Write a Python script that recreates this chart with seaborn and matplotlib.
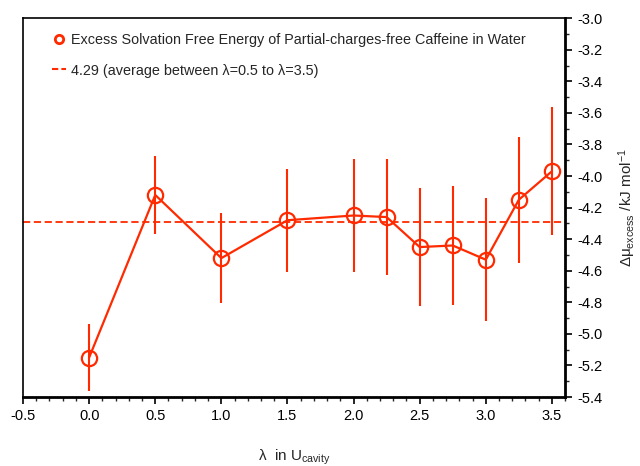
import numpy as np
import pandas as pd
import matplotlib
matplotlib.use("Agg")
import matplotlib.pyplot as plt
import seaborn as sns
from matplotlib.ticker import MultipleLocator, FormatStrFormatter
from matplotlib.lines import Line2D

lam = [0.0, 0.5, 1.0, 1.5, 2.0, 2.25, 2.5, 2.75, 3.0, 3.25, 3.5]
dmu = [-5.15, -4.12, -4.52, -4.28, -4.25, -4.26, -4.45, -4.44, -4.53, -4.15, -3.97]
err = [0.21, 0.25, 0.285, 0.325, 0.355, 0.365, 0.375, 0.38, 0.39, 0.40, 0.405]
avg = -4.29
series_label = "Excess Solvation Free Energy of Partial-charges-free Caffeine in Water"
avg_label = "4.29 (average between \u03bb=0.5 to \u03bb=3.5)"

sns.set_style("white")
plt.rcParams['font.family'] = ['Liberation Sans', 'DejaVu Sans']
plt.rcParams['mathtext.fontset'] = 'custom'
plt.rcParams['mathtext.rm'] = 'Liberation Sans'
plt.rcParams['mathtext.it'] = 'Liberation Sans'
RED = '#ff2a00'

df = pd.DataFrame({'lam': lam, 'dmu': dmu, 'err': err})

fig = plt.figure(figsize=(6.4, 4.66), dpi=100)
ax = fig.add_axes([0.036, 0.148, 0.847, 0.813])

ax.errorbar(df['lam'], df['dmu'], yerr=df['err'], fmt='none', ecolor=RED, elinewidth=1.5, capsize=0, zorder=2)
sns.lineplot(data=df, x='lam', y='dmu', ax=ax, color=RED, linewidth=1.6, marker='o',
             markersize=11, markerfacecolor='none', markeredgecolor=RED, markeredgewidth=1.6,
             zorder=3, legend=False)
ax.axhline(avg, color=RED, linestyle=(0, (4, 2)), linewidth=1.3, zorder=1)

h1 = Line2D([], [], linestyle='none', marker='o', markersize=6, markerfacecolor='none',
            markeredgecolor=RED, markeredgewidth=2)
h2 = Line2D([], [], color=RED, linestyle=(0, (3, 1.5)), linewidth=1.5)
ax.legend([h1, h2], [series_label, avg_label], loc='upper left', frameon=False,
          fontsize=10.4, handlelength=1.0, handletextpad=0.3, labelspacing=1.15,
          bbox_to_anchor=(0.037, 0.984), borderaxespad=0.2)

ax.set_xlim(-0.5, 3.6)
ax.set_ylim(-5.4, -3.0)
ax.xaxis.set_major_locator(MultipleLocator(0.5))
ax.xaxis.set_minor_locator(MultipleLocator(0.1))
ax.yaxis.set_major_locator(MultipleLocator(0.2))
ax.yaxis.set_minor_locator(MultipleLocator(0.1))
ax.xaxis.set_major_formatter(FormatStrFormatter('%.1f'))
ax.yaxis.set_major_formatter(FormatStrFormatter('%.1f'))
ax.yaxis.tick_right()
ax.yaxis.set_label_position('right')
ax.tick_params(axis='both', which='major', direction='out', length=5, width=1.2, labelsize=10.5, colors='black')
ax.tick_params(axis='both', which='minor', direction='out', length=3, width=1.0)
ax.tick_params(axis='x', which='both', bottom=True)
ax.tick_params(axis='y', which='both', right=True, left=False)
for s in ax.spines.values():
    s.set_visible(True)
    s.set_color('black')
    s.set_linewidth(1.2)
ax.spines['right'].set_linewidth(2)
ax.spines['bottom'].set_linewidth(2)

ax.set_xlabel(r'$\lambda$  in U$_{\mathrm{cavity}}$', fontsize=11, labelpad=18)
ax.set_ylabel(r'$\Delta\mu_{\mathrm{excess}}$ /kJ mol$^{-1}$', fontsize=11, labelpad=10)

fig.savefig('out.png', dpi=100)
